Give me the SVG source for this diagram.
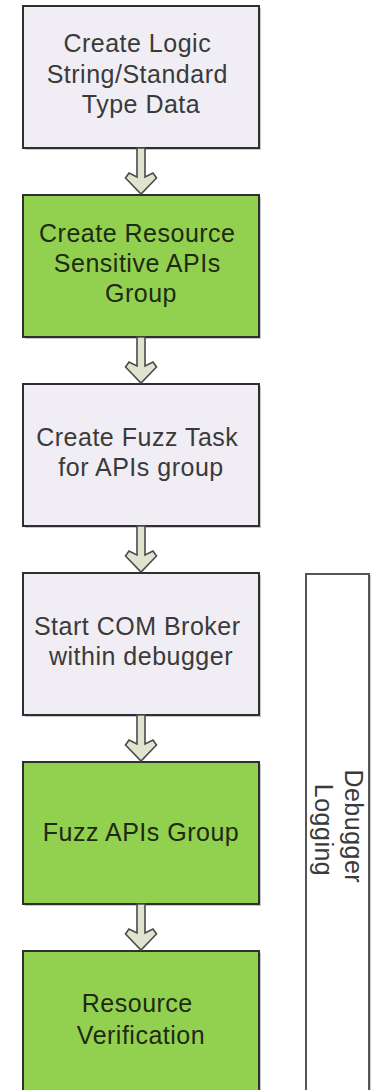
<svg xmlns="http://www.w3.org/2000/svg" width="371" height="1090" viewBox="0 0 371 1090">
  <style>
    .box { stroke: #2f2f2f; stroke-width: 2; }
    .plain { fill: #f0eef4; }
    .green { fill: #92d050; }
    .shadow { fill: #9a9a9a; opacity: 0.55; }
    .label { font-family: "Liberation Sans", Arial, sans-serif; font-size: 25px; letter-spacing: 0.5px; text-anchor: middle; }
    .dark { fill: #3a3a3a; }
    .ondark { fill: #1e2a12; }
    .arrow { fill: #dfe4cf; stroke: #4a4a4a; stroke-width: 1.6; stroke-linejoin: miter; }
  </style>
  <defs>
    <!-- block arrow pointing down, drawn from the bottom edge of a box (y=0) to the top of the next (y=47) -->
    <path id="downArrow" d="M137,0 V29 L129,25 L125.5,30 L141,46 L156.5,30 L153,25 L145,29 V0 Z"/>
  </defs>
  <rect width="371" height="1090" fill="#ffffff"/>

  <!-- side panel -->
  <g id="debugger-logging">
    <rect x="307" y="575" width="70" height="530" fill="#9a9a9a" opacity="0.5"/>
    <rect x="306" y="574" width="63" height="530" fill="#ffffff" stroke="#555555" stroke-width="2"/>
    <text class="label dark" transform="translate(345,830) rotate(90)">
      <tspan x="0" y="0">Debugger</tspan>
      <tspan x="0" y="30">Logging</tspan>
    </text>
  </g>

  <g id="create-logic">
    <rect class="shadow" x="25" y="8" width="236" height="142"/>
    <rect class="box plain" x="23" y="6" width="236" height="142"/>
    <text class="label dark">
      <tspan x="141" y="52">Create Logic</tspan>
      <tspan x="141" y="83">String/Standard</tspan>
      <tspan x="141" y="113">Type Data</tspan>
    </text>
  </g>

  <g id="create-resource">
    <rect class="shadow" x="25" y="197" width="236" height="142"/>
    <rect class="box green" x="23" y="195" width="236" height="142"/>
    <text class="label ondark">
      <tspan x="141" y="242">Create Resource</tspan>
      <tspan x="141" y="272">Sensitive APIs</tspan>
      <tspan x="141" y="302">Group</tspan>
    </text>
  </g>

  <g id="create-fuzz-task">
    <rect class="shadow" x="25" y="386" width="236" height="142"/>
    <rect class="box plain" x="23" y="384" width="236" height="142"/>
    <text class="label dark">
      <tspan x="141" y="446">Create Fuzz Task</tspan>
      <tspan x="141" y="476">for APIs group</tspan>
    </text>
  </g>

  <g id="start-com-broker">
    <rect class="shadow" x="25" y="575" width="236" height="142"/>
    <rect class="box plain" x="23" y="573" width="236" height="142"/>
    <text class="label dark">
      <tspan x="141" y="635">Start COM Broker</tspan>
      <tspan x="141" y="665">within debugger</tspan>
    </text>
  </g>

  <g id="fuzz-apis-group">
    <rect class="shadow" x="25" y="764" width="236" height="142"/>
    <rect class="box green" x="23" y="762" width="236" height="142"/>
    <text class="label ondark">
      <tspan x="141" y="841">Fuzz APIs Group</tspan>
    </text>
  </g>

  <g id="resource-verification">
    <rect class="shadow" x="25" y="953" width="236" height="150"/>
    <rect class="box green" x="23" y="951" width="236" height="150"/>
    <text class="label ondark">
      <tspan x="141" y="1012">Resource</tspan>
      <tspan x="141" y="1044">Verification</tspan>
    </text>
  </g>

  <g id="connectors">
    <use href="#downArrow" class="arrow" transform="translate(0,148)"/>
    <use href="#downArrow" class="arrow" transform="translate(0,337)"/>
    <use href="#downArrow" class="arrow" transform="translate(0,526)"/>
    <use href="#downArrow" class="arrow" transform="translate(0,715)"/>
    <use href="#downArrow" class="arrow" transform="translate(0,904)"/>
  </g>
</svg>
